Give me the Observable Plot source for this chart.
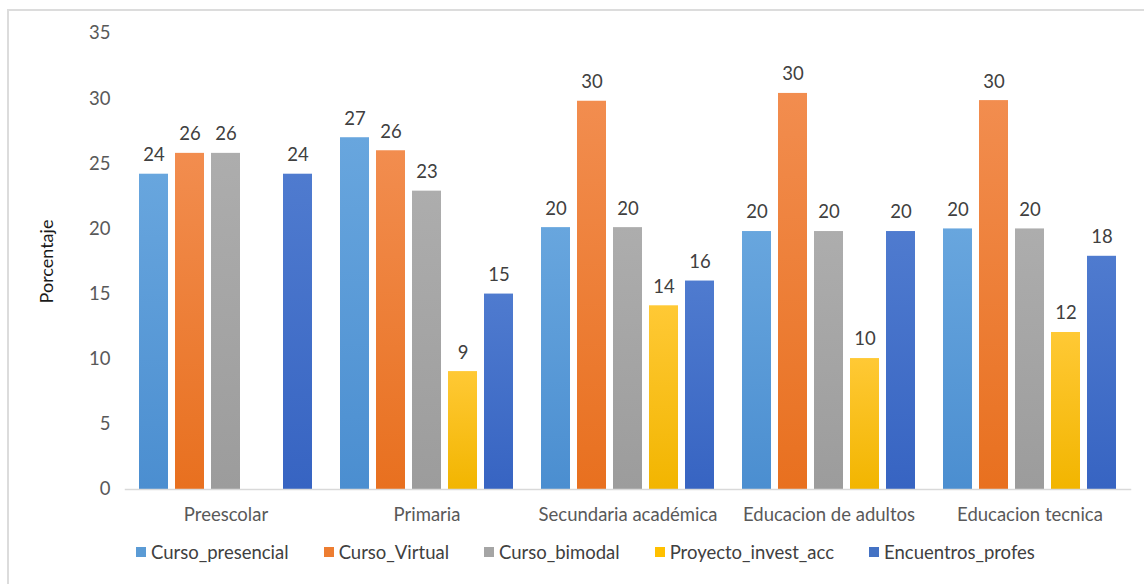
<!DOCTYPE html>
<html>
<head>
<meta charset="utf-8">
<script src="https://cdn.jsdelivr.net/npm/d3@7"></script>
<script src="https://cdn.jsdelivr.net/npm/@observablehq/plot@0.6"></script>
<style>
  html, body { margin: 0; padding: 0; background: #fff; }
  body { width: 1144px; height: 584px; position: relative; overflow: hidden; font-family: Lato, "Open Sans", sans-serif; }
  #frame { position: absolute; left: 7px; top: 9px; width: 1150px; height: 600px; border: 2px solid #dcdcdc; box-sizing: border-box; }
  #chart { position: absolute; left: 0; top: 0; }
  #legend { position: absolute; left: 136px; top: 541px; display: flex; gap: 35px; font-size: 18.5px; color: #404040; }
  #legend .item { display: flex; align-items: center; }
  #legend .sw { width: 10px; height: 10px; margin-right: 5px; }
</style>
</head>
<body>
<div id="frame"></div>
<div id="chart"></div>
<div id="legend"></div>
<script>
const categories = ["Preescolar", "Primaria", "Secundaria académica", "Educacion de adultos", "Educacion tecnica"];
const seriesNames = ["Curso_presencial", "Curso_Virtual", "Curso_bimodal", "Proyecto_invest_acc", "Encuentros_profes"];
const cursoPresencial = [24.2, 27.0, 20.1, 19.8, 20.0];
const cursoVirtual = [25.8, 26.0, 29.8, 30.4, 29.85];
const cursoBimodal = [25.8, 22.9, 20.1, 19.8, 20.0];
const proyectoInvest = [null, 9.05, 14.1, 10.05, 12.05];
const encuentrosProfes = [24.2, 15.0, 16.0, 19.8, 17.9];
const yTicks = [0, 5, 10, 15, 20, 25, 30, 35];

const seriesColors = ["#5b9bd5", "#ed7d31", "#a5a5a5", "#ffc000", "#4472c4"];
const gradTop = ["#68a6de", "#f28d4f", "#adadad", "#ffc935", "#4f7bcf"];
const gradBottom = ["#4b8ed0", "#e8701f", "#9c9c9c", "#f2b500", "#3764c2"];

const allSeries = [cursoPresencial, cursoVirtual, cursoBimodal, proyectoInvest, encuentrosProfes];
const rows = [];
categories.forEach((c, i) => {
  seriesNames.forEach((s, j) => {
    const v = allSeries[j][i];
    if (v != null) rows.push({category: c, series: s, value: v});
  });
});

const gradIds = seriesNames.map((s, j) => `grad${j}`);

const chart = Plot.plot({
  width: 1144,
  height: 530,
  marginLeft: 124,
  marginRight: 14,
  marginTop: 33,
  marginBottom: 41,
  style: {fontFamily: "Lato, 'Open Sans', sans-serif", fontSize: "18.5px", color: "#595959", background: "transparent"},
  fx: {domain: categories, padding: 0, label: null, tickSize: 0, tickPadding: 18},
  x: {domain: seriesNames, paddingInner: 0.19, paddingOuter: 0.38, axis: null},
  y: {domain: [0, 35], ticks: yTicks, tickSize: 0, tickPadding: 15, label: "Porcentaje", labelAnchor: "center", labelArrow: "none", labelOffset: 85},
  color: {domain: seriesNames, range: gradIds.map(id => `url(#${id})`)},
  marks: [
    Plot.barY(rows, {fx: "category", x: "series", y: "value", fill: "series"}),
    Plot.text(rows, {fx: "category", x: "series", y: "value", text: d => d3.format(".0f")(d.value), dy: -19, fill: "#404040", fontSize: 18.5}),
    Plot.frame({anchor: "bottom", stroke: "#d9d9d9", strokeWidth: 1.5, facet: "super"})
  ]
});

const defs = d3.select(chart).insert("defs", ":first-child");
gradIds.forEach((id, j) => {
  const g = defs.append("linearGradient").attr("id", id).attr("x1", 0).attr("y1", 0).attr("x2", 0).attr("y2", 1);
  g.append("stop").attr("offset", "0%").attr("stop-color", gradTop[j]);
  g.append("stop").attr("offset", "100%").attr("stop-color", gradBottom[j]);
});
d3.select(chart).selectAll("g[aria-label='y-axis label']").attr("fill", "#1a1a1a").style("font-size", "18px");

document.getElementById("chart").appendChild(chart);

const legend = document.getElementById("legend");
seriesNames.forEach((s, j) => {
  const item = document.createElement("div");
  item.className = "item";
  const sw = document.createElement("div");
  sw.className = "sw";
  sw.style.background = seriesColors[j];
  const t = document.createElement("span");
  t.textContent = s;
  item.appendChild(sw);
  item.appendChild(t);
  legend.appendChild(item);
});
</script>
</body>
</html>
